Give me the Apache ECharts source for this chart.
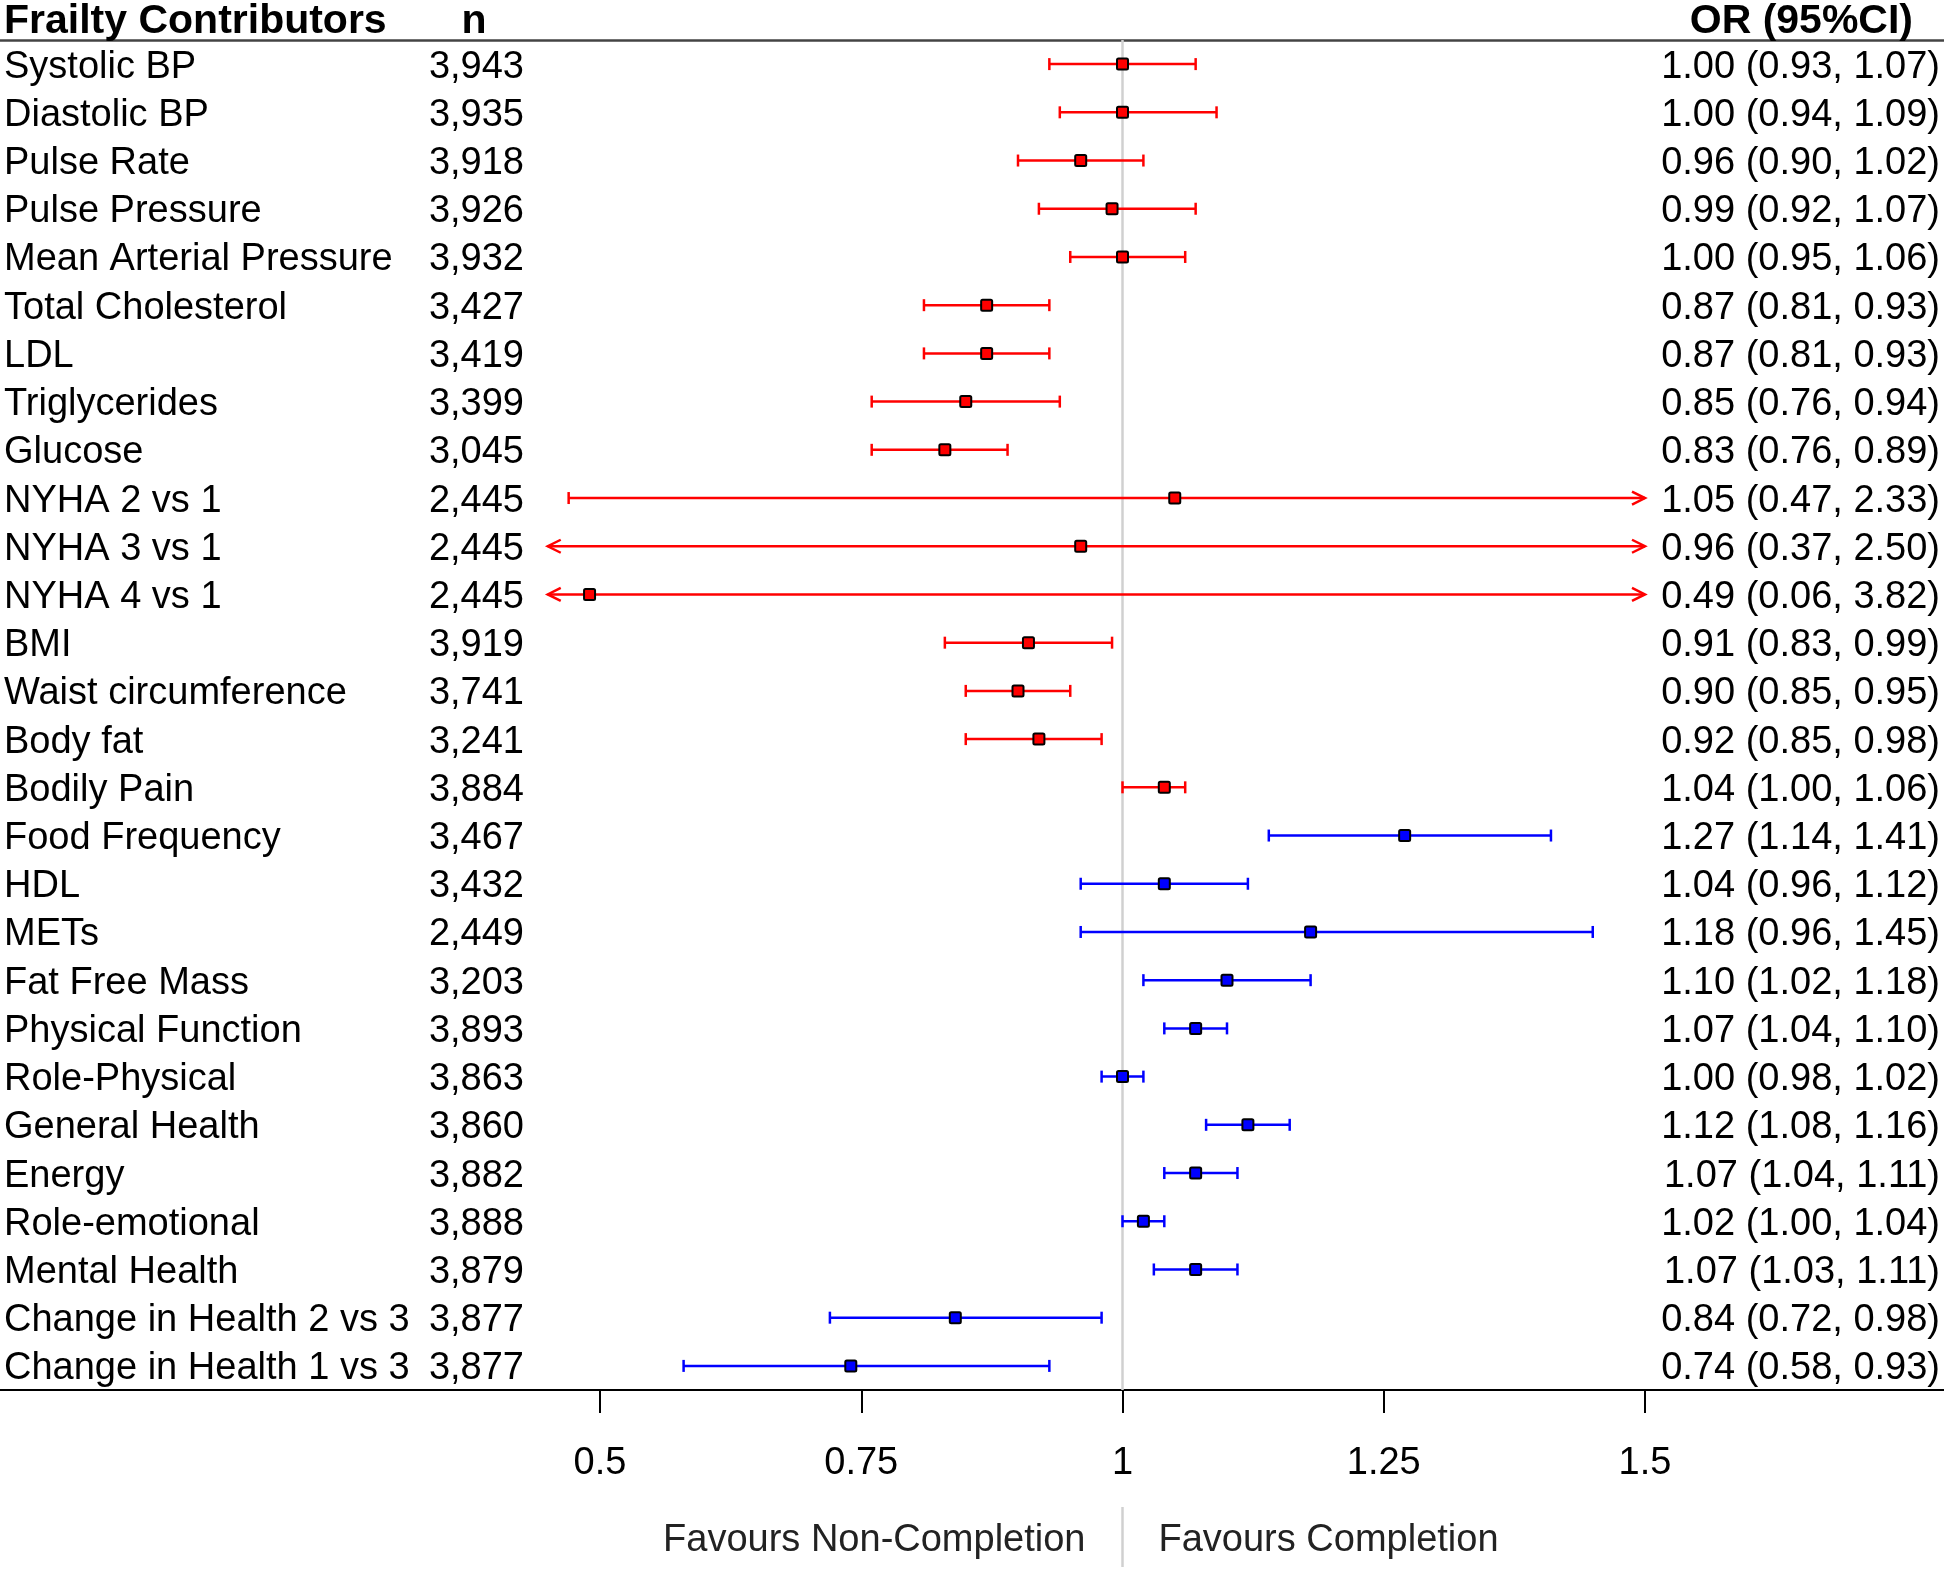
<!DOCTYPE html>
<html>
<head>
<meta charset="utf-8">
<script src="https://cdn.jsdelivr.net/npm/echarts@6/dist/echarts.min.js"></script>
<style>
html,body{margin:0;padding:0;background:#fff;}
#chart{width:1944px;height:1570px;}
</style>
</head>
<body>
<div id="chart"></div>
<script>
const labels = ['Systolic BP','Diastolic BP','Pulse Rate','Pulse Pressure','Mean Arterial Pressure','Total Cholesterol','LDL','Triglycerides','Glucose','NYHA 2 vs 1','NYHA 3 vs 1','NYHA 4 vs 1','BMI','Waist circumference','Body fat','Bodily Pain','Food Frequency','HDL','METs','Fat Free Mass','Physical Function','Role-Physical','General Health','Energy','Role-emotional','Mental Health','Change in Health 2 vs 3','Change in Health 1 vs 3'];
const nValues = ['3,943','3,935','3,918','3,926','3,932','3,427','3,419','3,399','3,045','2,445','2,445','2,445','3,919','3,741','3,241','3,884','3,467','3,432','2,449','3,203','3,893','3,863','3,860','3,882','3,888','3,879','3,877','3,877'];
const orValues = [1.00,1.00,0.96,0.99,1.00,0.87,0.87,0.85,0.83,1.05,0.96,0.49,0.91,0.90,0.92,1.04,1.27,1.04,1.18,1.10,1.07,1.00,1.12,1.07,1.02,1.07,0.84,0.74];
const ciLower = [0.93,0.94,0.90,0.92,0.95,0.81,0.81,0.76,0.76,0.47,0.37,0.06,0.83,0.85,0.85,1.00,1.14,0.96,0.96,1.02,1.04,0.98,1.08,1.04,1.00,1.03,0.72,0.58];
const ciUpper = [1.07,1.09,1.02,1.07,1.06,0.93,0.93,0.94,0.89,2.33,2.50,3.82,0.99,0.95,0.98,1.06,1.41,1.12,1.45,1.18,1.10,1.02,1.16,1.11,1.04,1.11,0.98,0.93];
const rowGroup = [0,0,0,0,0,0,0,0,0,0,0,0,0,0,0,0,1,1,1,1,1,1,1,1,1,1,1,1];
const tickValues = [0.5, 0.75, 1, 1.25, 1.5];
const headerLabels = ['Frailty Contributors', 'n', 'OR (95%CI)'];
const favourLabels = ['Favours Non-Completion', 'Favours Completion'];
const refValue = 1;

// ---- styling / layout config ----
const FONT = '"Liberation Sans", Arial, sans-serif';
const groupColors = ['#ff0000', '#0000ff'];
const clipMin = 0.45, clipMax = 1.5;
const xMin = 0.5 - 600 / 1045, xMax = 1.5 + 299 / 1045;

const chart = echarts.init(document.getElementById('chart'), null, {renderer: 'canvas'});

const barData = labels.map((_, i) => [orValues[i], ciLower[i], ciUpper[i], i]);
const tableData = labels.map((_, i) => [refValue, i]);

function fmt(v){ return v.toFixed(2); }

const option = {
  animation: false,
  backgroundColor: '#fff',
  grid: {left: 0, right: 0, top: 40, bottom: 180, containLabel: false},
  xAxis: [{
    type: 'value', min: xMin, max: xMax, position: 'bottom',
    axisLine: {show: true, onZero: false, lineStyle: {color: '#000', width: 2}},
    axisTick: {show: true, length: 23, lineStyle: {color: '#000', width: 2}, customValues: tickValues},
    axisLabel: {show: true, margin: 55, color: '#000', fontSize: 38, fontFamily: FONT,
      customValues: tickValues, formatter: v => String(v)},
    splitLine: {show: false}
  }, {
    type: 'value', min: xMin, max: xMax, position: 'top',
    axisLine: {show: true, onZero: false, lineStyle: {color: '#444', width: 2.5}},
    axisTick: {show: false}, axisLabel: {show: false}, splitLine: {show: false}
  }],
  yAxis: {
    type: 'category', data: labels, inverse: true,
    axisLine: {show: false}, axisTick: {show: false}, axisLabel: {show: false}, splitLine: {show: false}
  },
  series: [
    {
      type: 'custom', name: 'ref', z: 1, clip: false, silent: true,
      data: [[refValue, labels.length - 1]],
      encode: {x: 0, y: 1},
      renderItem: function(params, api){
        const band = api.size([0, 1])[1];
        const top = api.coord([refValue, 0])[1] - band / 2;
        const p = api.coord([refValue, labels.length - 1]);
        const axisY = p[1] + band / 2;
        const x = p[0];
        return {type: 'group', children: [
          {type: 'line', shape: {x1: x, y1: top, x2: x, y2: axisY}, style: {stroke: '#d0d0d0', lineWidth: 2.5}},
          {type: 'line', shape: {x1: x, y1: axisY + 117, x2: x, y2: axisY + 177}, style: {stroke: '#d0d0d0', lineWidth: 2.5}},
          {type: 'text', style: {text: favourLabels[0], x: x - 37, y: axisY + 151, align: 'right', verticalAlign: 'middle', fill: '#222', font: '38px ' + FONT}},
          {type: 'text', style: {text: favourLabels[1], x: x + 36, y: axisY + 151, align: 'left', verticalAlign: 'middle', fill: '#222', font: '38px ' + FONT}}
        ]};
      }
    },
    {
      type: 'custom', name: 'table', z: 2, clip: false, silent: true,
      data: tableData,
      encode: {x: 0, y: 1},
      renderItem: function(params, api){
        const i = params.dataIndex;
        const y = api.coord([refValue, i])[1] + 3;
        const txt = fmt(orValues[i]) + ' (' + fmt(ciLower[i]) + ', ' + fmt(ciUpper[i]) + ')';
        return {type: 'group', children: [
          {type: 'text', style: {text: labels[i], x: 4, y: y, align: 'left', verticalAlign: 'middle', fill: '#000', font: '38px ' + FONT}},
          {type: 'text', style: {text: nValues[i], x: 524, y: y, align: 'right', verticalAlign: 'middle', fill: '#000', font: '38px ' + FONT}},
          {type: 'text', style: {text: txt, x: 1940, y: y, align: 'right', verticalAlign: 'middle', fill: '#000', font: '38px ' + FONT}}
        ]};
      }
    },
    {
      type: 'custom', name: 'header', z: 2, clip: false, silent: true,
      data: [[refValue, 0]],
      encode: {x: 0, y: 1},
      renderItem: function(params, api){
        const band = api.size([0, 1])[1];
        const y = api.coord([refValue, 0])[1] - band / 2 - 18;
        return {type: 'group', children: [
          {type: 'text', style: {text: headerLabels[0], x: 4, y: y, align: 'left', verticalAlign: 'middle', fill: '#000', font: 'bold 41px ' + FONT}},
          {type: 'text', style: {text: headerLabels[1], x: 474, y: y, align: 'center', verticalAlign: 'middle', fill: '#000', font: 'bold 41px ' + FONT}},
          {type: 'text', style: {text: headerLabels[2], x: 1913, y: y, align: 'right', verticalAlign: 'middle', fill: '#000', font: 'bold 41px ' + FONT}}
        ]};
      }
    },
    {
      type: 'custom', name: 'OR', z: 5, clip: false,
      data: barData,
      encode: {x: 0, y: 3},
      renderItem: function(params, api){
        const i = params.dataIndex;
        const color = groupColors[rowGroup[i]];
        const lo = api.value(1), hi = api.value(2), est = api.value(0);
        const pc = api.coord([est, i]);
        const y = pc[1];
        const xl = api.coord([Math.max(lo, clipMin), i])[0];
        const xr = api.coord([Math.min(hi, clipMax), i])[0];
        const ls = {stroke: color, lineWidth: 2.5, fill: null};
        const ch = [{type: 'line', shape: {x1: xl, y1: y, x2: xr, y2: y}, style: ls}];
        if (lo < clipMin) {
          ch.push({type: 'polyline', shape: {points: [[xl + 13, y - 6.5], [xl, y], [xl + 13, y + 6.5]]}, style: ls});
        } else {
          ch.push({type: 'line', shape: {x1: xl, y1: y - 6, x2: xl, y2: y + 6}, style: ls});
        }
        if (hi > clipMax) {
          ch.push({type: 'polyline', shape: {points: [[xr - 13, y - 6.5], [xr, y], [xr - 13, y + 6.5]]}, style: ls});
        } else {
          ch.push({type: 'line', shape: {x1: xr, y1: y - 6, x2: xr, y2: y + 6}, style: ls});
        }
        ch.push({type: 'rect', shape: {x: pc[0] - 5.5, y: y - 5.5, width: 11, height: 11, r: 1.5},
          style: {fill: color, stroke: '#000', lineWidth: 2}});
        return {type: 'group', children: ch};
      }
    }
  ]
};
chart.setOption(option);
</script>
</body>
</html>
